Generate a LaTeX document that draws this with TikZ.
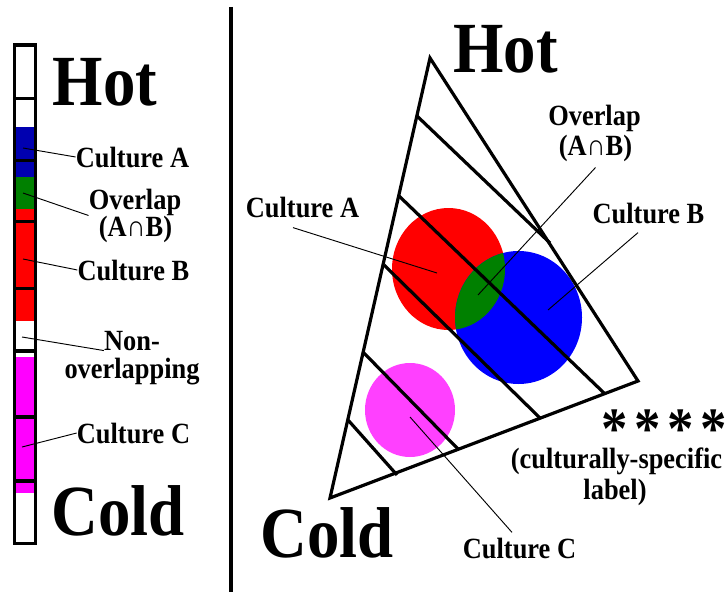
\documentclass[tikz,border=0pt]{standalone}
\usepackage{fontspec}
\setmainfont{Liberation Serif}[FakeStretch=0.9]
\usepackage{tikz}
\definecolor{barblue}{RGB}{0,0,176}
\definecolor{cultgreen}{RGB}{0,128,0}
\definecolor{barmag}{RGB}{255,0,255}
\definecolor{cmag}{RGB}{255,64,255}

\begin{document}
\begin{tikzpicture}[x=0.75pt, y=-0.75pt,
    every node/.style={inner sep=0pt, font=\bfseries},
    big/.style={font=\fontsize{54}{54}\selectfont\bfseries, anchor=base},
    lbl/.style={font=\fontsize{22}{22}\selectfont\bfseries, anchor=base},
    leader/.style={line width=0.7pt},
    heavy/.style={line width=2.4pt, line join=miter}]
    \useasboundingbox (0,0) rectangle (727,592);

    % left bar
    \fill[barblue] (14.5,127) rectangle (35.5,177);
    \fill[cultgreen] (14.5,177) rectangle (35.5,209);
    \fill[red] (14.5,209) rectangle (35.5,321);
    \fill[barmag] (14.5,357) rectangle (35.5,493);
    \draw[heavy] (14.5,45) rectangle (35.5,543.5);
    \foreach \y in {98.5,160.5,221.5,288.5,351,417,481}
        \draw[heavy] (14.5,\y) -- (35.5,\y);

    \node[big] (hotL) at (105,105) {Hot};
    \node[big] (coldL) at (118,535) {Cold};
    \node[lbl] (lA) at (132.5,167) {Culture A};
    \node[lbl] (lO1) at (135,209) {Overlap};
    \node[lbl] (lO2) at (135.5,236) {(A∩B)};
    \node[lbl] (lB) at (133.5,280) {Culture B};
    \node[lbl] (lN1) at (132,350) {Non-};
    \node[lbl] (lN2) at (132,378) {overlapping};
    \node[lbl] (lC) at (133.5,443) {Culture C};

    \coordinate (bA) at (23,148);
    \coordinate (bO) at (23,193);
    \coordinate (bB) at (23,259);
    \coordinate (bN) at (22,337);
    \coordinate (bC) at (22,447);
    \draw[leader] (bA) -- (lA.west);
    \draw[leader] (bO) -- (lO1.south west);
    \draw[leader] (bB) -- (lB.west);
    \draw[leader] (bN) -- (lN1.south west);
    \draw[leader] (bC) -- (lC.west);

    % divider
    \draw[heavy] (231,7) -- (231,592);

    % cultures in the triangle
    \fill[red] (448.5,269) ellipse [x radius=56.5, y radius=61];
    \fill[blue] (518.5,317.5) ellipse [x radius=63.5, y radius=66.5];
    \begin{scope}
        \clip (448.5,269) ellipse [x radius=56.5, y radius=61];
        \fill[cultgreen] (518.5,317.5) ellipse [x radius=63.5, y radius=66.5];
    \end{scope}
    \fill[cmag] (410,410) ellipse [x radius=45, y radius=47];

    \draw[heavy] (430,58) -- (638,381) -- (330,498) -- cycle;
    \draw[heavy] (417,116) -- (550,243);
    \draw[heavy] (399,196) -- (604,393);
    \draw[heavy] (384,265) -- (540,418);
    \draw[heavy] (363,352) -- (458,449);
    \draw[heavy] (348,420) -- (397,475);

    \node[big] (hotR) at (505.5,73) {Hot};
    \node[big] (coldR) at (327,557) {Cold};
    \node[lbl] (rA) at (302.5,217) {Culture A};
    \node[lbl] (rO1) at (594.5,125) {Overlap};
    \node[lbl] (rO2) at (595.5,155) {(A∩B)};
    \node[lbl] (rB) at (648.5,223) {Culture B};
    \node[lbl] (rC) at (519.5,558) {Culture C};
    \node[font=\fontsize{44}{44}\selectfont\bfseries] (stars) at (664,429)
        {*\hspace{5pt}*\hspace{5pt}*\hspace{5pt}*};
    \node[lbl] (spec1) at (616.5,468) {(culturally-specific};
    \node[lbl] (spec2) at (615,499) {label)};

    \coordinate (iA) at (437,273);
    \coordinate (iO) at (478,295);
    \coordinate (iB) at (548,310);
    \coordinate (iC) at (410,417);
    \draw[leader] ([shift={(-9.5,10)}]rA.south) -- (iA);
    \draw[leader] ([shift={(0,6)}]rO2.south) -- (iO);
    \draw[leader] ([shift={(-10.5,9)}]rB.south) -- (iB);
    \draw[leader] ([shift={(-7.5,-5)}]rC.north) -- (iC);
\end{tikzpicture}
\end{document}
